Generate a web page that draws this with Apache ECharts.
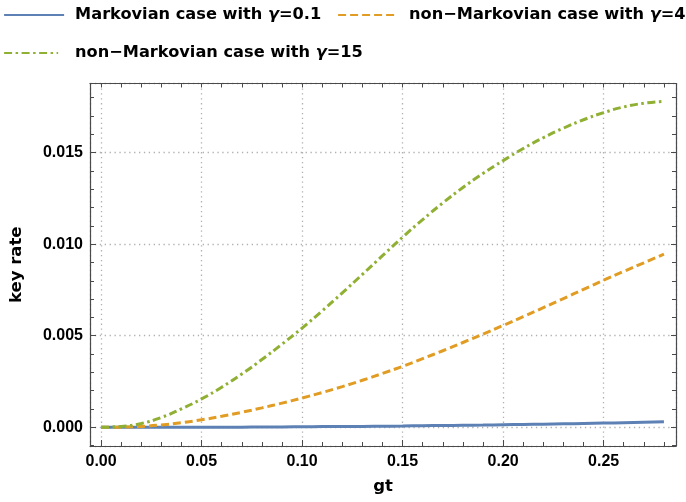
<!DOCTYPE html>
<html><head><meta charset="utf-8">
<script src="https://cdn.jsdelivr.net/npm/echarts@6/dist/echarts.min.js"></script>
<style>html,body{margin:0;padding:0;background:#fff}#c{width:686px;height:502px}</style>
</head><body><div id="c"></div>
<script>
// ---- data ----
const gt = [0,0.01,0.02,0.03,0.04,0.05,0.06,0.07,0.08,0.09,0.10,0.11,0.12,0.13,0.14,0.15,0.16,0.17,0.18,0.19,0.20,0.21,0.22,0.23,0.24,0.25,0.26,0.27,0.28];
const markovGamma01 = [0,0,0,0,0.00001,0.00001,0.00001,0.00001,0.00002,0.00002,0.00003,0.00004,0.00005,0.00005,0.00006,0.00007,0.00009,0.0001,0.00011,0.00012,0.00014,0.00016,0.00017,0.00019,0.00021,0.00023,0.00025,0.00027,0.0003];
const nonMarkovGamma4 = [0,0.00001,0.00005,0.00013,0.00025,0.00041,0.0006,0.00082,0.00106,0.00132,0.0016,0.0019,0.00222,0.00257,0.00294,0.00333,0.00375,0.00418,0.00463,0.00509,0.00556,0.00604,0.00653,0.00703,0.00753,0.00803,0.00851,0.00898,0.00945];
const nonMarkovGamma15 = [0,0.00005,0.00021,0.00054,0.00101,0.00155,0.00219,0.00291,0.0037,0.00454,0.00542,0.00636,0.00734,0.00835,0.00937,0.01038,0.01134,0.01225,0.01309,0.01386,0.01456,0.01522,0.01581,0.01633,0.01679,0.01718,0.01749,0.01769,0.01779];
const seriesNames = ['Markovian case with γ=0.1', 'non\u2212Markovian case with γ=4', 'non\u2212Markovian case with γ=15'];
const xTitle = 'gt';
const yTitle = 'key rate';

// ---- styling ----
const colors = ['#5e81b5', '#e19c24', '#8fb032'];
const frameColor = '#4a4a4a';
const tickFont = {fontFamily: 'Liberation Sans', fontWeight: 'bold', fontSize: 16, color: '#000'};
const titleFont = {fontFamily: 'DejaVu Sans', fontWeight: 'bold', fontSize: 16.5, color: '#000'};
const X_RANGE = [-0.0055, 0.286];
const Y_RANGE = [-0.00102, 0.01877];

function pairs(ys) { return gt.map((x, i) => [x, ys[i]]); }

const legendText = {
  fontFamily: 'DejaVu Sans', fontWeight: 'bold', fontSize: 16.2, color: '#000', lineHeight: 20,
  rich: { g: {fontFamily: 'DejaVu Sans', fontWeight: 'bold', fontStyle: 'italic', fontSize: 16.2, color: '#000', lineHeight: 20} }
};
function legendFmt(name) { return name.replace('γ', '{g|γ}'); }
function mkLegend(idx, left, top, w, pad) {
  return {
    data: [seriesNames[idx]], left: left, top: top, padding: 0, orient: 'horizontal',
    itemWidth: w, itemHeight: 14, selectedMode: false,
    itemStyle: {opacity: 0},
    lineStyle: {width: 2.2},
    formatter: legendFmt,
    textStyle: Object.assign({}, legendText, {padding: [0, 0, 0, pad]})
  };
}

const commonTick = {show: true, inside: true, length: 6, lineStyle: {color: frameColor, width: 1}};
const commonMinor = {show: true, splitNumber: 5, length: 4, lineStyle: {color: frameColor, width: 1}};
const axisLine = {show: true, onZero: false, lineStyle: {color: frameColor, width: 1.2}};
const gridLine = {show: true, lineStyle: {color: '#b0b0b0', width: 1.3, type: [1.3, 3.6]}};

const option = {
  backgroundColor: '#fff',
  animation: false,
  legend: [
    mkLegend(0, 3, 5, 60, 6),
    mkLegend(1, 337, 5, 56, 10),
    mkLegend(2, 3, 43, 54, 12)
  ],
  grid: {left: 90, right: 10, top: 83.5, bottom: 56, containLabel: false},
  xAxis: [
    {
      type: 'value', position: 'bottom', min: X_RANGE[0], max: X_RANGE[1], splitNumber: 6,
      axisLine: axisLine, axisTick: commonTick, minorTick: commonMinor,
      splitLine: gridLine,
      axisLabel: Object.assign({margin: 8, showMinLabel: false, showMaxLabel: false,
        formatter: v => v.toFixed(2)}, tickFont),
      name: xTitle, nameLocation: 'middle', nameGap: 32, nameTextStyle: titleFont
    },
    {
      type: 'value', position: 'top', min: X_RANGE[0], max: X_RANGE[1], splitNumber: 6,
      axisLine: axisLine, axisTick: Object.assign({}, commonTick, {length: 4}), minorTick: commonMinor,
      splitLine: {show: false}, axisLabel: {show: false}
    }
  ],
  yAxis: [
    {
      type: 'value', position: 'left', min: Y_RANGE[0], max: Y_RANGE[1], splitNumber: 4,
      axisLine: axisLine, axisTick: commonTick, minorTick: commonMinor,
      splitLine: gridLine,
      axisLabel: Object.assign({margin: 7, showMinLabel: false, showMaxLabel: false,
        formatter: v => v.toFixed(3)}, tickFont),
      name: yTitle, nameLocation: 'middle', nameGap: 65, nameRotate: 90, nameTextStyle: titleFont
    },
    {
      type: 'value', position: 'right', min: Y_RANGE[0], max: Y_RANGE[1], splitNumber: 4,
      axisLine: axisLine, axisTick: Object.assign({}, commonTick, {length: 5}), minorTick: commonMinor,
      splitLine: {show: false}, axisLabel: {show: false}
    }
  ],
  series: [
    {name: seriesNames[0], type: 'line', data: pairs(markovGamma01), smooth: true, symbol: 'none', z: 3,
     color: colors[0], lineStyle: {color: colors[0], width: 3, type: 'solid'}},
    {name: seriesNames[1], type: 'line', data: pairs(nonMarkovGamma4), smooth: true, symbol: 'none', z: 4,
     color: colors[1], lineStyle: {color: colors[1], width: 3, type: [8, 4]}},
    {name: seriesNames[2], type: 'line', data: pairs(nonMarkovGamma15), smooth: true, symbol: 'none', z: 5,
     color: colors[2], lineStyle: {color: colors[2], width: 3, type: [8, 3.5, 2.5, 3.5]}}
  ]
};
const chart = echarts.init(document.getElementById('c'), null, {renderer: 'canvas'});
chart.setOption(option);
</script></body></html>
